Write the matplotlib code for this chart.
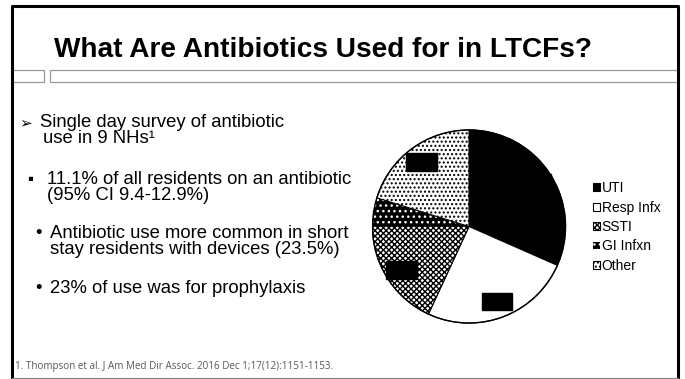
import matplotlib
matplotlib.use('Agg')
import matplotlib.pyplot as plt
import matplotlib.patches as mpatches
from matplotlib.lines import Line2D

# pie data (share of antibiotic use by indication)
categories = ['UTI', 'Resp Infx', 'SSTI', 'GI Infxn', 'Other']
shares = [31.6, 25.3, 18.1, 4.8, 20.2]
face = ['black', 'white', 'white', 'black', 'white']
edge = ['black', 'black', 'black', 'white', 'black']
hatches = [None, None, 'xxxxxx', '...', '....']

title = 'What Are Antibiotics Used for in LTCFs?'
body = [
    ('\u27a2', 19, 127, 11),
    ('Single day survey of antibiotic', 40, 127, 13.3),
    ('use in 9 NHs\u00b9', 43, 143, 13.3),
    ('\u25aa', 27, 184, 12),
    ('11.1% of all residents on an antibiotic', 47, 184, 13.3),
    ('(95% CI 9.4-12.9%)', 47, 200, 13.3),
    ('\u2022', 35, 238, 13.3),
    ('Antibiotic use more common in short', 50, 238, 13.3),
    ('stay residents with devices (23.5%)', 50, 254, 13.3),
    ('\u2022', 35, 293, 13.3),
    ('23% of use was for prophylaxis', 50, 293, 13.3),
]
footnote = '1. Thompson et al. J Am Med Dir Assoc. 2016 Dec 1;17(12):1151-1153.'

plt.rcParams['hatch.linewidth'] = 1.0
sans = ['Liberation Sans', 'DejaVu Sans']

fig = plt.figure(figsize=(6.85, 3.79), dpi=100)
bg = fig.add_axes([0, 0, 1, 1])
bg.set_xlim(0, 685)
bg.set_ylim(379, 0)
bg.axis('off')

# slide frame
bg.add_line(Line2D([12, 12, 678, 678], [378, 6, 6, 378], color='black', lw=2.2))
bg.add_line(Line2D([12, 678], [378, 378], color='#808080', lw=0.8))
bg.add_patch(mpatches.Rectangle((12, 70), 32, 12, fill=False, ec='#999999', lw=0.9))
bg.add_patch(mpatches.Rectangle((50, 70), 628, 12, fill=False, ec='#999999', lw=0.9))

bg.text(54, 57, title, fontsize=20.2, fontweight='bold', va='baseline', family=sans)

for txt, x, y, fs in body:
    bg.text(x, y, txt, fontsize=fs, va='baseline', family=sans, color='black')

bg.text(15, 369, footnote, fontsize=7.1, va='baseline', color='#595959',
        family=['Open Sans', 'DejaVu Sans'])

# pie: center (469, 226.5) px, radius 97.5 px
cx, cy, r = 469, 226.5, 97.5
pax = fig.add_axes([(cx - r) / 685, (379 - cy - r) / 379, 2 * r / 685, 2 * r / 379])
wedges, _, autotexts = pax.pie(shares, startangle=90, counterclock=False,
                               autopct='%1.0f%%', pctdistance=0.83,
                               textprops=dict(color='black', fontsize=8, family=sans))
for w, fc, ec, h in zip(wedges, face, edge, hatches):
    w.set_facecolor(fc)
    w.set_edgecolor(ec)
    w.set_linewidth(0.0 if ec == 'white' else 0.8)
    if h:
        w.set_hatch(h)
for t in autotexts:
    t.set_bbox(dict(boxstyle='square,pad=0.35', fc='black', ec='black'))
# the small GI slice shows no label box
autotexts[3].set_visible(False)
pax.add_patch(mpatches.Circle((0, 0), 1, fill=False, ec='black', lw=1.0))
pax.set_xlim(-1.01, 1.01)
pax.set_ylim(-1.01, 1.01)
pax.set_aspect('auto')
pax.axis('off')

handles = [mpatches.Patch(facecolor=fc, edgecolor=ec, hatch=h, label=c,
                          lw=0.0 if ec == 'white' else 0.8)
           for c, fc, ec, h in zip(categories, face, edge, hatches)]
fig.legend(handles=handles, loc='center left', bbox_to_anchor=(593 / 685, (379 - 227) / 379),
           frameon=False, prop=dict(family=sans, size=10),
           handlelength=0.5, handleheight=0.5, handletextpad=0.12, labelspacing=0.39,
           borderpad=0, borderaxespad=0)

fig.savefig('out.png', dpi=100)
